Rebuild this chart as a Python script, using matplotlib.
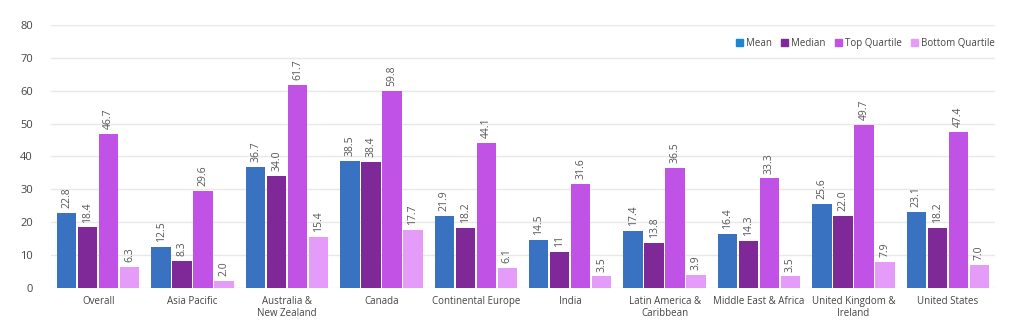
import matplotlib.pyplot as plt
import numpy as np
from matplotlib.patches import Patch

plt.rcParams['font.family'] = ['Open Sans', 'DejaVu Sans']

regions = ["Overall", "Asia Pacific", "Australia &\nNew Zealand", "Canada",
           "Continental Europe", "India", "Latin America &\nCaribbean",
           "Middle East & Africa", "United Kingdom &\nIreland", "United States"]
mean_vals = [22.8, 12.5, 36.7, 38.5, 21.9, 14.5, 17.4, 16.4, 25.6, 23.1]
median_vals = [18.4, 8.3, 34.0, 38.4, 18.2, 11, 13.8, 14.3, 22.0, 18.2]
top_vals = [46.7, 29.6, 61.7, 59.8, 44.1, 31.6, 36.5, 33.3, 49.7, 47.4]
bottom_vals = [6.3, 2.0, 15.4, 17.7, 6.1, 3.5, 3.9, 3.5, 7.9, 7.0]
value_labels = {
    "Median": ["18.4", "8.3", "34.0", "38.4", "18.2", "11", "13.8", "14.3", "22.0", "18.2"],
}

series = [("Mean", mean_vals, '#3a72c2', '#1a86d6'),
          ("Median", median_vals, '#7f2898', '#7f2898'),
          ("Top Quartile", top_vals, '#c053e5', '#c053e5'),
          ("Bottom Quartile", bottom_vals, '#e59cf9', '#e59cf9')]

fig = plt.figure(figsize=(10.24, 3.28), dpi=100)
ax = fig.add_axes([0.0498, 0.122, 0.9219, 0.802])

x = np.arange(len(regions))
step = 0.222
width = 0.205
handles = []
for i, (name, vals, color, lcolor) in enumerate(series):
    pos = x + (i - 1.5) * step
    ax.bar(pos, vals, width, color=color, zorder=3)
    labels = value_labels.get(name, ["%.1f" % v for v in vals])
    for p, v, lab in zip(pos, vals, labels):
        ax.text(p, v + 1.5, lab, rotation=90, ha='center', va='bottom',
                fontsize=7.5, color='#555555')
    handles.append(Patch(color=lcolor, label=name))

ax.set_xlim(-0.5, len(regions) - 0.5)
ax.set_ylim(0, 80)
ax.set_yticks(range(0, 81, 10))
ax.set_xticks(x)
ax.set_xticklabels(regions, fontsize=7, color='#444444', linespacing=1.1)
ax.tick_params(axis='y', labelsize=8, colors='#444444', length=0, pad=13)
ax.tick_params(axis='x', length=0, pad=6)
ax.grid(axis='y', color='#e8e8e8', linewidth=1, zorder=0)
for s in ax.spines.values():
    s.set_visible(False)

ax.legend(handles=handles, loc='center right', bbox_to_anchor=(1.0, 0.93), ncol=4,
          frameon=False, fontsize=7, handlelength=0.7, handleheight=0.7,
          handletextpad=0.3, columnspacing=1.0, labelcolor='#444444',
          borderaxespad=0, borderpad=0)

fig.savefig('out.png', dpi=100)
